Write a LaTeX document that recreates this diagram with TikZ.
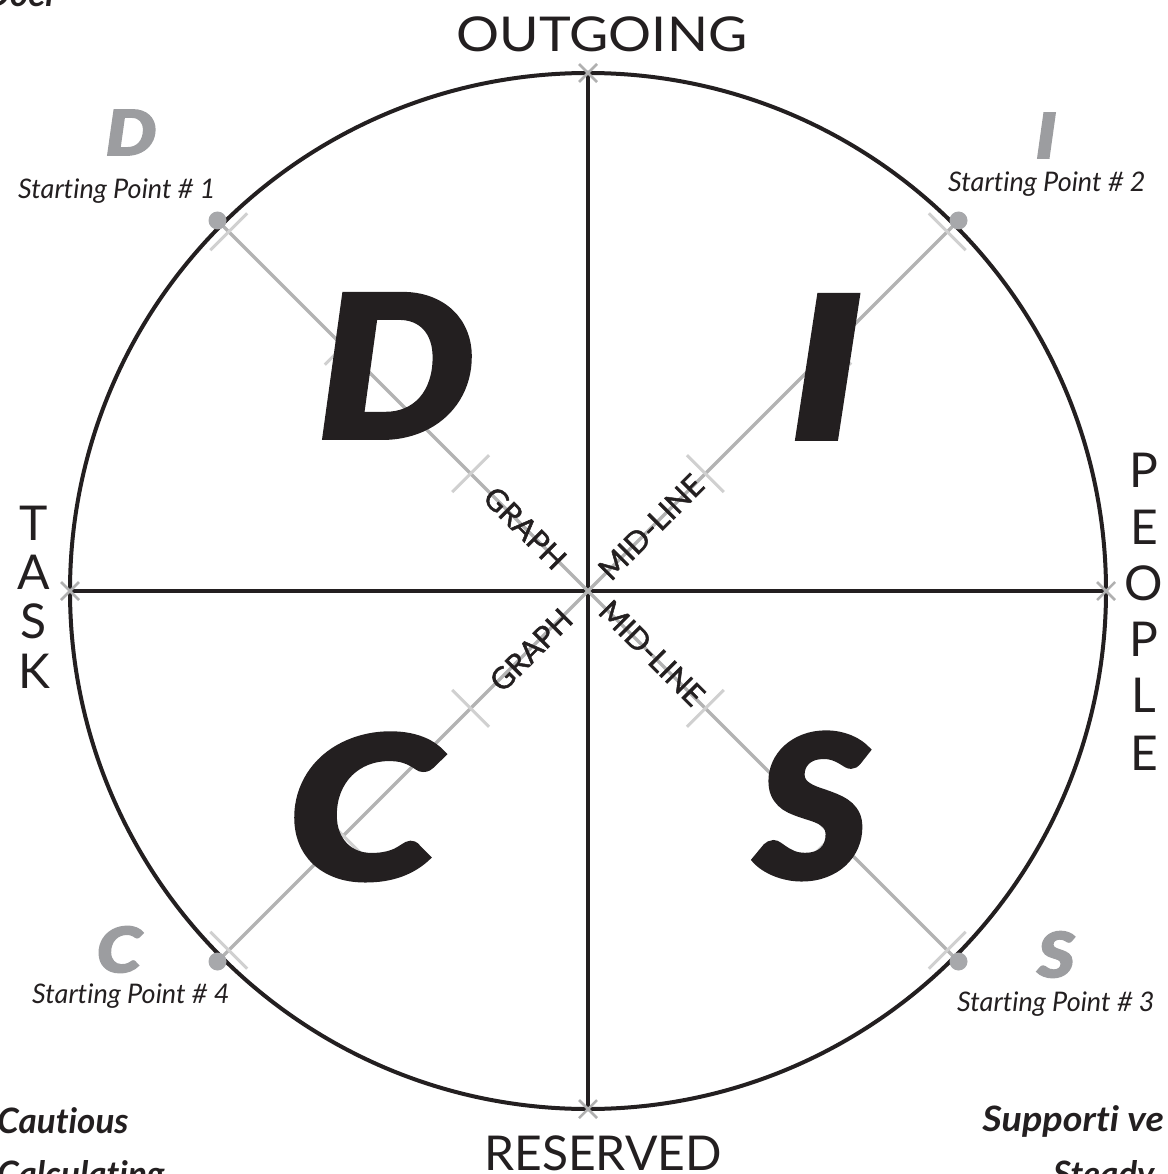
\documentclass[tikz,border=0pt]{standalone}
\usepackage{fontspec}
\setmainfont{Lato}[Ligatures=NoCommon]
\newfontfamily\heavyfont{Lato Black Italic}[FakeBold=3]
\newfontfamily\medfont{Lato}[FakeBold=1.6]
\usetikzlibrary{calc}
\definecolor{ink}{HTML}{231F20}
\definecolor{diaggrey}{HTML}{B3B3B3}
\definecolor{tickgrey}{HTML}{D0D0D0}
\definecolor{xgrey}{HTML}{B0B0B0}
\definecolor{dotgrey}{HTML}{A7A8AB}
\definecolor{lettergrey}{HTML}{9C9DA0}
\begin{document}
\begin{tikzpicture}[x=1pt,y=-1pt,
  axis/.style={line width=3.5pt, draw=ink},
  rim/.style={line width=4pt, draw=ink},
  diag/.style={line width=3.5pt, draw=diaggrey},
  tickmark/.style={line width=3pt, draw=tickgrey},
  xmark/.style={line width=2.5pt, draw=xgrey},
  dotnode/.style={circle, fill=dotgrey, minimum size=18pt, inner sep=0pt},
  big/.style={font=\heavyfont\fontsize{196}{196}\selectfont, text=ink, inner sep=0pt, anchor=base},
  small/.style={font=\heavyfont\fontsize{62}{62}\selectfont, text=lettergrey, inner sep=0pt, anchor=base, xscale=1.15},
  sp/.style={font=\itshape\fontsize{27}{27}\selectfont, text=ink, inner sep=0pt, anchor=base west},
  axlabel/.style={font=\fontsize{48}{48}\selectfont, text=ink, inner sep=0pt, anchor=base},
  diaglabel/.style={font=\medfont\fontsize{30}{30}\selectfont, text=ink, inner sep=0pt},
  trait/.style={font=\bfseries\itshape\fontsize{35}{35}\selectfont, text=ink, inner sep=0pt},
]
\useasboundingbox (0,0) rectangle (1167,1174);
\clip (0,0) rectangle (1167,1174);
\coordinate (O) at (588,591);
\coordinate (top) at (588,73);
\coordinate (bot) at (588,1109);
\coordinate (lft) at (70,591);
\coordinate (rgt) at (1106,591);
% circle and axes
\draw[rim] (O) circle[radius=518];
\draw[axis] (top) -- (bot);
\draw[axis] (lft) -- (rgt);
% diagonals
\foreach \sx/\sy/\nm in {-1/-1/d, 1/-1/i, 1/1/s, -1/1/c} {
  \coordinate (rim\nm) at ($(O)+({(\sx)*366.3},{(\sy)*366.3})$);
  \draw[diag] (O) -- (rim\nm);
  \foreach \t in {117.4,244.7,359.2} {
    \draw[tickmark] ($(O)+({(\sx)*\t+(\sy)*18.4},{(\sy)*\t-(\sx)*18.4})$) -- ($(O)+({(\sx)*\t-(\sy)*18.4},{(\sy)*\t+(\sx)*18.4})$);
  }
  \node[dotnode] (dot\nm) at ($(O)+({(\sx)*370.5},{(\sy)*370.5})$) {};
}
% X marks at axis ends
\foreach \p in {top,bot,lft,rgt} {
  \draw[xmark] ($(\p)+(-9,-9)$) -- ($(\p)+(9,9)$);
  \draw[xmark] ($(\p)+(-9,9)$) -- ($(\p)+(9,-9)$);
}
% diagonal labels
\node[diaglabel, rotate=-45] (g1) at (525,528) {GRAPH};
\node[diaglabel, rotate=45] (m1) at (651,527) {MID-LINE};
\node[diaglabel, rotate=45] (g2) at (531,650) {GRAPH};
\node[diaglabel, rotate=-45] (m2) at (652,653) {MID-LINE};
% big letters
\node[big, xscale=1.12] (bigD) at (396,437) {D};
\node[big, xscale=1.25] (bigI) at (826,438) {I};
\node[big, xscale=1.1] (bigS) at (812,877) {S};
\node[big, xscale=1.22] (bigC) at (363,878) {C};
% small grey letters
\node[small] (smD) at (131,155) {D};
\node[small] (smI) at (1046,158) {I};
\node[small] (smC) at (119,972) {C};
\node[small] (smS) at (1056,977) {S};
% starting points
\node[sp] (sp1) at (18,199) {Starting Point \# 1};
\node[sp] (sp2) at (948,192) {Starting Point \# 2};
\node[sp] (sp3) at (957,1011) {Starting Point \# 3};
\node[sp] (sp4) at (32,1003) {Starting Point \# 4};
% axis labels
\node[axlabel, xscale=1.12] (out) at (602,52) {OUTGOING};
\node[axlabel] (res) at (603,1170) {RESERVED};
\node[axlabel] (t1) at (34,540) {T};
\node[axlabel] (t2) at (34,589) {A};
\node[axlabel] (t3) at (34,638) {S};
\node[axlabel] (t4) at (34,688) {K};
\node[axlabel] (p1) at (1144,487) {P};
\node[axlabel] (p2) at (1144,544) {E};
\node[axlabel] (p3) at (1144,600) {O};
\node[axlabel] (p4) at (1144,656) {P};
\node[axlabel] (p5) at (1144,712) {L};
\node[axlabel] (p6) at (1144,770) {E};
% trait words
\node[trait, anchor=base east] (doer) at (58,7) {Doer};
\node[trait, anchor=base west] (caut) at (-3,1133) {Cautious};
\node[trait, anchor=base west] (calc) at (-3,1186) {Calculating};
\node[trait, anchor=base east, xscale=1.08] (supp) at (1164,1131) {Supporti ve};
\node[trait, anchor=base west] (stdy) at (1053,1186) {Steady};
\end{tikzpicture}
\end{document}
